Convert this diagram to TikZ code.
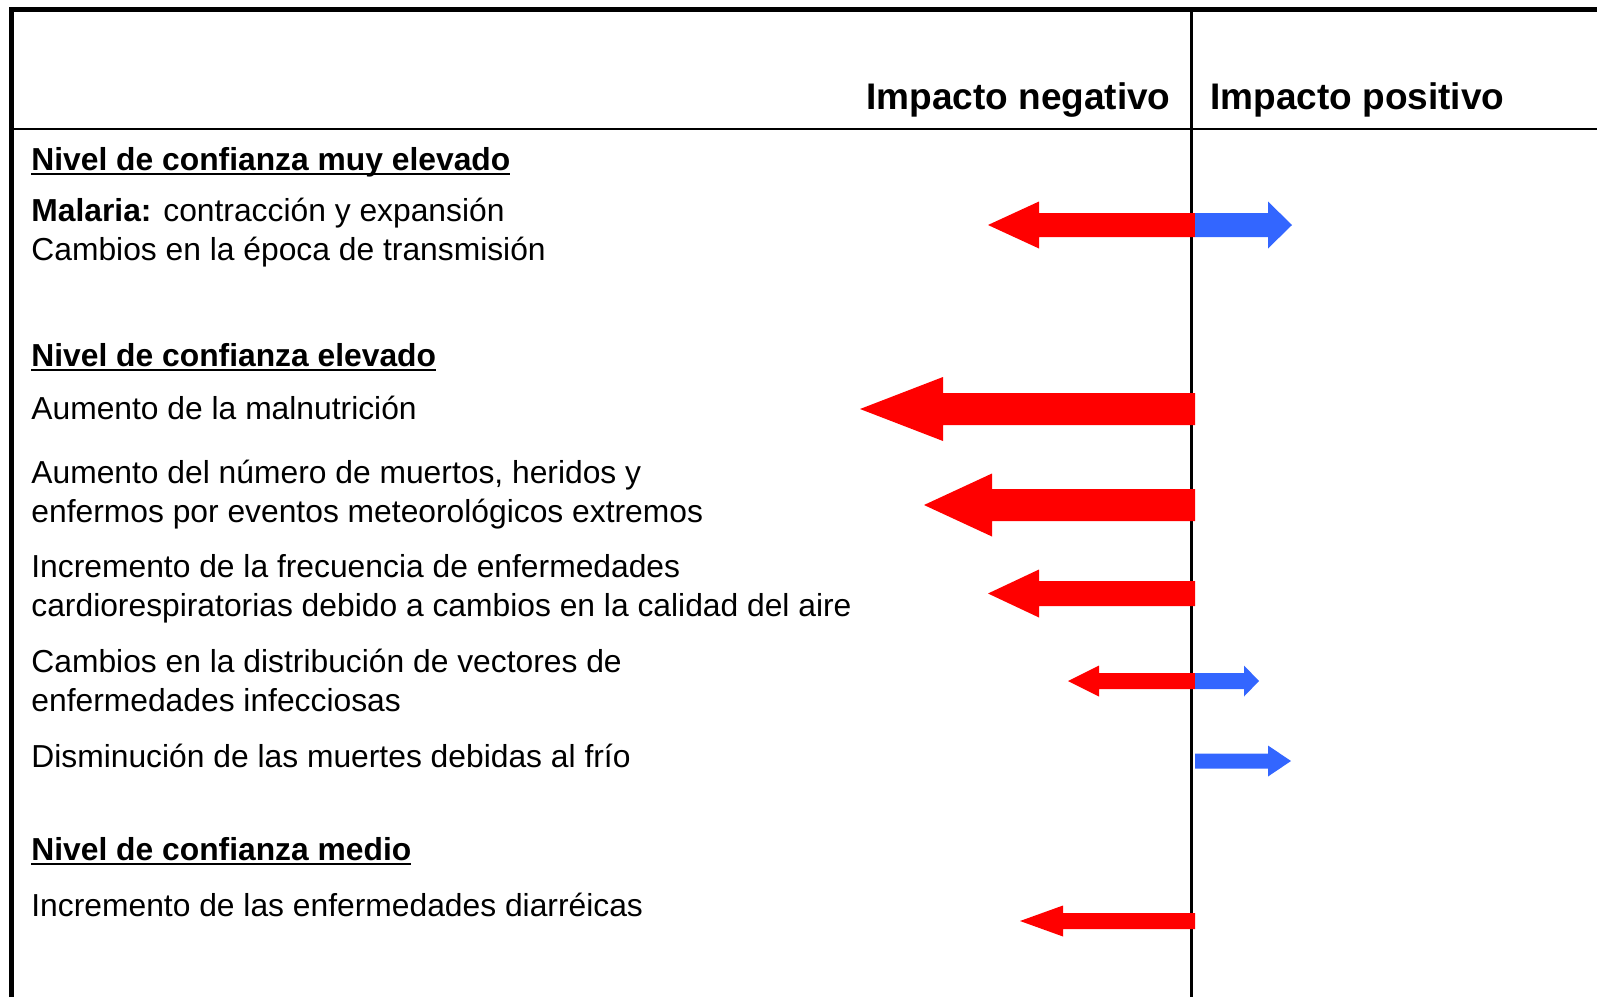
\documentclass[tikz,border=0pt]{standalone}
\usepackage{fontspec}
\setmainfont{Liberation Sans}
\newcommand\subrayado[1]{\setbox0\hbox{#1}\rlap{\rule[-2.6pt]{\wd0}{1pt}}\box0}
\definecolor{rojo}{HTML}{FF0000}
\definecolor{azul}{HTML}{3366FF}
\begin{document}
\begin{tikzpicture}[x = 0.5pt, y = -0.5pt,
    every node/.style = {anchor = base west, inner sep = 0pt, align = left,
        font = \fontsize{15.9pt}{19.3pt}\selectfont},
    nivel/.style = {font = \fontsize{15.9pt}{19.3pt}\selectfont\bfseries},
    cabecera/.style = {font = \fontsize{18.5pt}{22pt}\selectfont\bfseries}]
    \useasboundingbox (0,0) rectangle (1597,997);
    % marco y columnas
    \draw[line width = 2.5pt] (11.5,997) -- (11.5,9) -- (1597,9);
    \draw[line width = 1.25pt] (11.5,129) -- (1597,129);
    \draw[line width = 1.5pt] (1191,9) -- (1191,997);
    \node[cabecera, anchor = base east] (neg) at (1171,109) {Impacto negativo};
    \node[cabecera] (pos) at (1210,109) {Impacto positivo};
    % textos (en dos lineas: y de la segunda linea)
    \node[nivel] (muy) at (31,170) {\subrayado{Nivel de confianza muy elevado}};
    \node (malaria) at (31,260) {\textbf{Malaria:} contracción y expansión\\Cambios en la época de transmisión};
    \node[nivel] (elevado) at (31,366) {\subrayado{Nivel de confianza elevado}};
    \node (malnut) at (31,419) {Aumento de la malnutrición};
    \node (muertos) at (31,522) {Aumento del número de muertos, heridos y\\enfermos por eventos meteorológicos extremos};
    \node (cardio) at (31,616) {Incremento de la frecuencia de enfermedades\\cardiorespiratorias debido a cambios en la calidad del aire};
    \node (vectores) at (31,711) {Cambios en la distribución de vectores de\\enfermedades infecciosas};
    \node (frio) at (31,767) {Disminución de las muertes debidas al frío};
    \node[nivel] (medio) at (31,860) {\subrayado{Nivel de confianza medio}};
    \node (diarrea) at (31,916) {Incremento de las enfermedades diarréicas};
    % flechas: y / punta / base de la punta / medio ancho / media punta
    \foreach \y/\t/\b/\s/\h in {225/988/1039/12/23.5, 409/860/943/16/32, 505/924/992/16/31.5,
        593.5/988/1039/12.5/24, 681/1068/1099/8/15.5, 921/1020/1063/8/15.5}
        \fill[rojo] (1195,{\y-\s}) -- (\b,{\y-\s}) -- (\b,{\y-\h}) -- (\t,\y)
            -- (\b,{\y+\h}) -- (\b,{\y+\s}) -- (1195,{\y+\s}) -- cycle;
    \foreach \y/\t/\b/\s/\h in {225/1292/1268/12/23.5, 681/1259/1244/8/15.5, 761/1291/1268/7.5/15.5}
        \fill[azul] (1195,{\y-\s}) -- (\b,{\y-\s}) -- (\b,{\y-\h}) -- (\t,\y)
            -- (\b,{\y+\h}) -- (\b,{\y+\s}) -- (1195,{\y+\s}) -- cycle;
\end{tikzpicture}
\end{document}
